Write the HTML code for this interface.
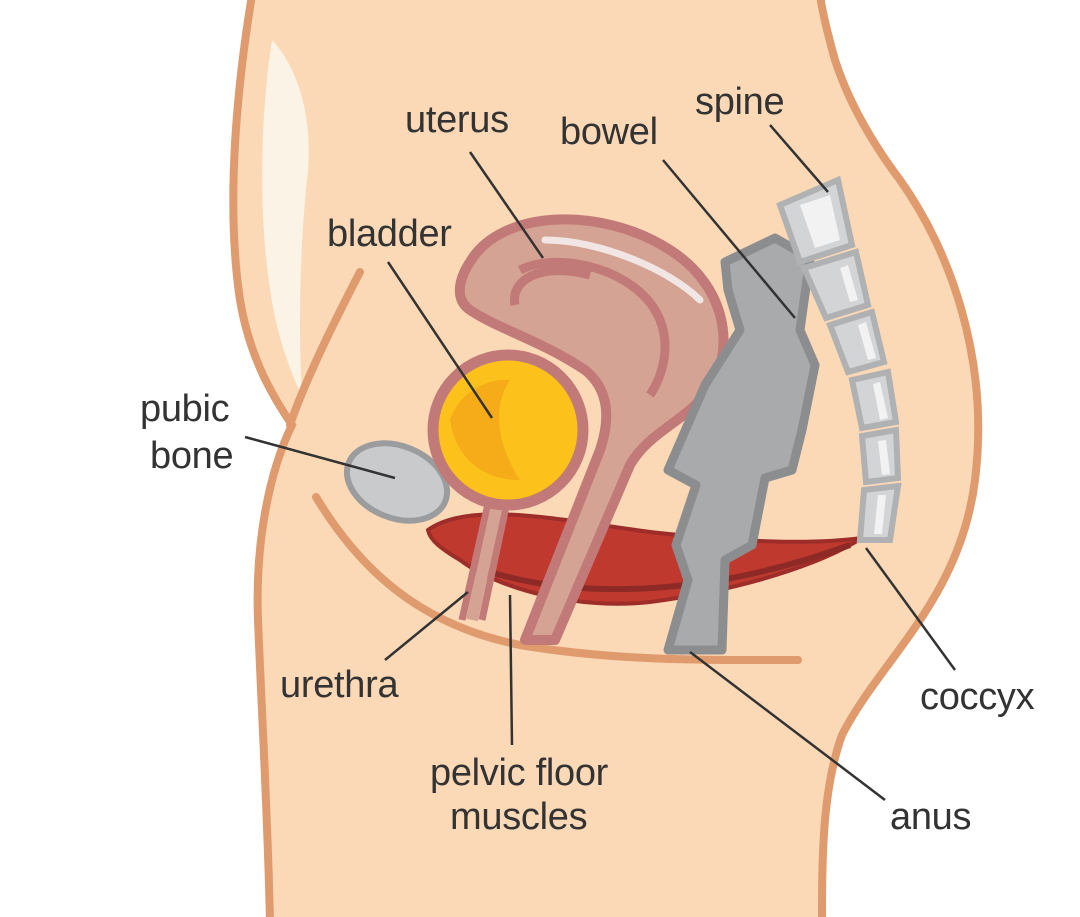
<!DOCTYPE html>
<html><head><meta charset="utf-8"><style>
html,body{margin:0;padding:0;background:#fff;}
svg{display:block;}
text{font-family:"Liberation Sans",sans-serif;font-size:38px;fill:#333;letter-spacing:-0.3px;}
</style></head><body>
<svg width="1080" height="917" viewBox="0 0 1080 917" xmlns="http://www.w3.org/2000/svg">
<path d="M252,-5 C238,80 225,200 240,300 C250,360 275,400 292,425 C270,470 255,540 258,620 C262,720 268,820 270,925 L822,925 C822,860 822,790 842,735 C880,660 960,600 975,480 C990,360 950,250 900,180 C870,140 848,100 835,60 C828,35 822,10 820,-5 Z" fill="#fbd9b6" stroke="#df9a6e" stroke-width="8"/>
<path d="M272,40 C258,130 258,250 278,330 C286,360 296,385 302,395 C298,330 300,240 308,170 C312,120 300,70 272,40 Z" fill="#fbf3e6"/>
<path d="M360,272 C335,320 305,380 290,425" fill="none" stroke="#df9a6e" stroke-width="8" stroke-linecap="round"/>
<path d="M316,497 C360,570 420,625 520,645 C620,662 720,660 798,660" fill="none" stroke="#df9a6e" stroke-width="8" stroke-linecap="round"/>
<path d="M428,530 C470,500 560,520 650,532 C740,542 810,545 862,538 C820,565 740,590 650,602 C580,610 500,590 460,560 C440,548 430,540 428,530 Z" fill="#c0392f" stroke="#9c2d28" stroke-width="4"/>
<path d="M470,565 C560,600 700,600 850,545" fill="none" stroke="#8e2a26" stroke-width="6"/>
<ellipse cx="397" cy="482" rx="52" ry="36" transform="rotate(22 397 482)" fill="#c9cacc" stroke="#9b9c9e" stroke-width="6"/>
<path d="M470,262 C500,210 600,205 670,250 C725,285 735,345 712,385 C690,420 650,430 630,465 L555,640 L525,640 L600,450 C610,420 610,390 585,370 C540,340 500,330 470,310 C455,300 458,280 470,262 Z" fill="#d4a393" stroke="#c27a78" stroke-width="10" stroke-linejoin="round"/>
<path d="M520,270 C560,250 640,270 660,320 C672,350 660,380 650,395" fill="none" stroke="#c27a78" stroke-width="9"/>
<path d="M515,305 C510,280 540,262 590,275" fill="none" stroke="#c27a78" stroke-width="9"/>
<path d="M545,240 C600,240 670,270 700,300" fill="none" stroke="#f1e6e3" stroke-width="7" stroke-linecap="round"/>
<path d="M490,495 L462,620 M508,497 L482,620" fill="none" stroke="#c27a78" stroke-width="7"/>
<path d="M499,496 L472,620" fill="none" stroke="#d4a393" stroke-width="12"/>
<circle cx="508" cy="430" r="75" fill="#fcc21b" stroke="#c27a78" stroke-width="11"/>
<path d="M450,420 C460,390 490,378 510,380 C490,410 500,450 520,480 C480,480 455,455 450,420 Z" fill="#f6ab18"/>
<path d="M725,262 L775,238 L810,258 L800,330 L815,365 L802,430 L792,470 L765,478 L752,545 L725,560 L722,650 L668,650 L688,580 L676,545 L696,485 L668,470 L705,385 L740,330 L728,290 Z" fill="#a9aaac" stroke="#8c8d8f" stroke-width="9" stroke-linejoin="round"/>
<g fill="#d3d4d6" stroke="#b0b1b3" stroke-width="6">
<path d="M780,205 L838,180 L852,245 L800,262 Z"/>
<path d="M804,268 L856,252 L868,305 L826,318 Z"/>
<path d="M830,325 L872,312 L884,362 L848,372 Z"/>
<path d="M852,380 L888,372 L896,422 L862,428 Z"/>
<path d="M862,436 L896,430 L898,478 L866,482 Z"/>
<path d="M864,490 L898,486 L890,540 L860,540 Z"/>
</g>
<g fill="#f2f2f2">
<path d="M800,205 L830,195 L840,240 L815,248 Z"/>
<path d="M848,265 L858,300 L850,302 L840,268 Z"/>
<path d="M866,322 L876,358 L868,360 L858,325 Z"/>
<path d="M880,382 L888,418 L880,420 L873,384 Z"/>
<path d="M886,440 L890,474 L882,475 L878,441 Z"/>
<path d="M886,495 L882,534 L874,534 L878,495 Z"/>
</g>
<g stroke="#333" stroke-width="2.5" fill="none">
<line x1="470" y1="152" x2="543" y2="258"/>
<line x1="388" y1="262" x2="492" y2="418"/>
<line x1="663" y1="160" x2="795" y2="318"/>
<line x1="770" y1="125" x2="828" y2="192"/>
<line x1="245" y1="437" x2="395" y2="478"/>
<line x1="385" y1="660" x2="468" y2="592"/>
<line x1="510" y1="595" x2="512" y2="745"/>
<line x1="690" y1="652" x2="885" y2="800"/>
<line x1="866" y1="548" x2="955" y2="670"/>
</g>
<text x="405" y="132">uterus</text>
<text x="560" y="144">bowel</text>
<text x="695" y="114">spine</text>
<text x="327" y="246">bladder</text>
<text x="140" y="421">pubic</text>
<text x="150" y="468">bone</text>
<text x="280" y="697">urethra</text>
<text x="430" y="785">pelvic floor</text>
<text x="450" y="829">muscles</text>
<text x="920" y="709">coccyx</text>
<text x="890" y="829">anus</text>
</svg>
</body></html>
